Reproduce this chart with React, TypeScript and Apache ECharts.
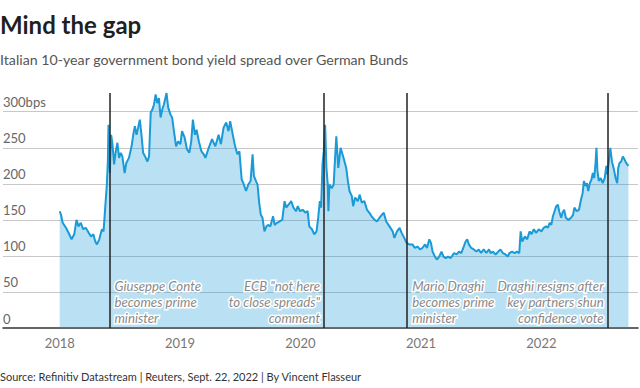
import React, { useEffect, useRef } from "react";
import * as echarts from "echarts";

const FONT = "Lato, 'Noto Sans', sans-serif";

const dates: string[] = [
  "2018-01-01","2018-01-05","2018-01-10","2018-01-20","2018-01-30","2018-02-06","2018-02-14","2018-02-21","2018-02-27","2018-03-06",
  "2018-03-13","2018-03-21","2018-03-30","2018-04-06","2018-04-13","2018-04-19","2018-04-24","2018-05-01","2018-05-09","2018-05-14",
  "2018-05-19","2018-05-24","2018-05-27","2018-05-29","2018-06-02","2018-06-06","2018-06-10","2018-06-15","2018-06-20","2018-06-25",
  "2018-06-30","2018-07-05","2018-07-10","2018-07-17","2018-07-22","2018-07-30","2018-08-07","2018-08-12","2018-08-17","2018-08-22",
  "2018-08-27","2018-09-01","2018-09-06","2018-09-11","2018-09-17","2018-09-24","2018-09-29","2018-10-04","2018-10-09","2018-10-14",
  "2018-10-19","2018-10-24","2018-10-29","2018-11-03","2018-11-08","2018-11-13","2018-11-21","2018-11-26","2018-12-03","2018-12-08",
  "2018-12-13","2018-12-20","2018-12-26","2019-01-02","2019-01-07","2019-01-15","2019-01-22","2019-01-29","2019-02-04","2019-02-09",
  "2019-02-15","2019-02-20","2019-02-27","2019-03-07","2019-03-14","2019-03-19","2019-03-29","2019-04-08","2019-04-18","2019-04-28",
  "2019-05-05","2019-05-13","2019-05-21","2019-05-28","2019-06-02","2019-06-10","2019-06-17","2019-06-24","2019-06-30","2019-07-07",
  "2019-07-12","2019-07-20","2019-07-27","2019-08-03","2019-08-09","2019-08-13","2019-08-19","2019-08-24","2019-08-29","2019-09-03",
  "2019-09-08","2019-09-14","2019-09-20","2019-09-25","2019-10-02","2019-10-10","2019-10-15","2019-10-22","2019-10-30","2019-11-07",
  "2019-11-14","2019-11-19","2019-11-26","2019-12-04","2019-12-11","2019-12-19","2019-12-24","2019-12-31","2020-01-08","2020-01-16",
  "2020-01-23","2020-01-28","2020-02-05","2020-02-12","2020-02-19","2020-02-24","2020-02-29","2020-03-04","2020-03-08","2020-03-12",
  "2020-03-16","2020-03-20","2020-03-24","2020-03-26","2020-03-29","2020-04-05","2020-04-11","2020-04-15","2020-04-19","2020-04-25",
  "2020-05-02","2020-05-12","2020-05-19","2020-05-24","2020-05-29","2020-06-05","2020-06-09","2020-06-15","2020-06-23","2020-06-29",
  "2020-07-05","2020-07-13","2020-07-21","2020-07-28","2020-08-04","2020-08-13","2020-08-21","2020-08-28","2020-09-04","2020-09-10",
  "2020-09-17","2020-09-27","2020-10-07","2020-10-12","2020-10-20","2020-10-28","2020-11-03","2020-11-11","2020-11-18","2020-11-26",
  "2020-12-06","2020-12-13","2020-12-21","2020-12-29","2021-01-05","2021-01-13","2021-01-19","2021-01-26","2021-01-31","2021-02-05",
  "2021-02-12","2021-02-18","2021-02-25","2021-03-04","2021-03-10","2021-03-17","2021-03-24","2021-04-01","2021-04-11","2021-04-19",
  "2021-04-26","2021-05-03","2021-05-09","2021-05-16","2021-05-21","2021-05-26","2021-06-02","2021-06-10","2021-06-18","2021-06-25",
  "2021-07-02","2021-07-10","2021-07-18","2021-07-26","2021-07-31","2021-08-07","2021-08-15","2021-08-23","2021-08-30","2021-09-06",
  "2021-09-14","2021-09-21","2021-09-26","2021-10-04","2021-10-12","2021-10-19","2021-10-26","2021-10-30","2021-11-04","2021-11-12",
  "2021-11-19","2021-11-26","2021-12-02","2021-12-09","2021-12-16","2021-12-24","2022-01-01","2022-01-08","2022-01-15","2022-01-21",
  "2022-01-26","2022-01-31","2022-02-05","2022-02-10","2022-02-15","2022-02-20","2022-02-24","2022-03-02","2022-03-06","2022-03-11",
  "2022-03-16","2022-03-24","2022-04-01","2022-04-07","2022-04-11","2022-04-18","2022-04-25","2022-05-01","2022-05-06","2022-05-10",
  "2022-05-15","2022-05-19","2022-05-23","2022-05-28","2022-06-02","2022-06-06","2022-06-10","2022-06-14","2022-06-17","2022-06-20",
  "2022-06-24","2022-06-30","2022-07-06","2022-07-12","2022-07-17","2022-07-20","2022-07-25","2022-07-29","2022-08-03","2022-08-09",
  "2022-08-14","2022-08-19","2022-08-22","2022-08-26","2022-08-31","2022-09-05","2022-09-10","2022-09-15","2022-09-22",
];

const spreadBps: number[] = [
  162,157,146,139,130,123,130,150,141,146,
  137,139,132,127,130,120,116,123,137,134,
  167,199,231,282,215,268,255,227,245,257,
  236,243,238,215,229,236,252,268,280,268,
  278,289,268,243,238,231,238,299,303,310,
  324,312,319,292,303,310,326,306,296,292,
  275,252,259,255,273,264,248,243,259,289,
  268,275,259,245,241,236,250,262,252,268,
  255,278,285,273,287,268,252,241,245,206,
  201,190,199,204,241,211,204,199,174,157,
  153,134,141,143,141,155,143,146,148,150,
  176,167,171,176,167,162,169,162,164,160,
  162,141,137,130,134,153,176,167,227,245,
  282,222,199,162,199,194,199,234,266,222,
  250,234,222,204,190,183,169,181,176,185,
  174,176,164,160,155,150,148,153,157,160,
  148,141,134,125,134,139,132,125,118,116,
  116,111,113,109,111,116,111,123,118,106,
  99,95,99,106,99,97,99,97,104,102,
  106,104,111,120,123,116,111,109,106,109,
  104,109,104,109,104,106,102,106,109,104,
  102,99,104,106,104,106,104,134,120,127,
  123,134,130,137,132,137,134,139,141,139,
  146,143,155,162,169,171,162,153,160,164,
  153,150,153,157,167,162,164,178,187,204,
  197,201,190,201,206,215,208,227,250,218,
  204,208,201,208,225,213,234,250,231,220,
  208,201,222,229,231,238,234,229,225,
];

const eventDates: string[] = ["2018-06-01", "2020-03-13", "2020-11-20", "2022-07-21"];
const eventLabels: string[] = [
  "Giuseppe Conte\nbecomes prime\nminister",
  "ECB \"not here\nto close spreads\"\ncomment",
  "Mario Draghi\nbecomes prime\nminister",
  "Draghi resigns after\nkey partners shun\nconfidence vote",
];
const eventSides: string[] = ["right", "left", "right", "left"];

const xMin = "2017-07-13";
const xMax = "2022-10-21";
const yMax = 326;
const yStep = 50;

const TITLE = "Mind the gap";
const SUBTITLE = "Italian 10-year government bond yield spread over German Bunds";
const SOURCE = "Source: Refinitiv Datastream | Reuters, Sept. 22, 2022 | By Vincent Flasseur";

function ts(s: string): number {
  const [y, m, d] = s.split("-").map(Number);
  return new Date(y, m - 1, d).getTime();
}

export default function App() {
  const ref = useRef<HTMLDivElement>(null);

  useEffect(() => {
    if (!ref.current) return;
    const chart = echarts.init(ref.current, null, { renderer: "svg" });
    const seriesData = dates.map((d, i) => [ts(d), spreadBps[i]]);

    chart.setOption({
      animation: false,
      textStyle: { fontFamily: FONT },
      title: [
        {
          text: TITLE,
          left: 0,
          top: 12,
          padding: 0,
          textStyle: { fontFamily: FONT, fontSize: 24, fontWeight: "bold", color: "#1f1f1f" },
        },
        {
          text: SUBTITLE,
          left: 0,
          top: 52,
          padding: 0,
          textStyle: { fontFamily: FONT, fontSize: 14.2, fontWeight: "normal", color: "#555" },
        },
        {
          text: SOURCE,
          left: 0,
          top: 371,
          padding: 0,
          textStyle: { fontFamily: FONT, fontSize: 11, fontWeight: "normal", color: "#333" },
        },
      ],
      grid: { left: 0, right: 2, top: 93, bottom: 60, containLabel: false },
      xAxis: {
        type: "time",
        min: ts(xMin),
        max: ts(xMax),
        splitNumber: 5,
        minInterval: 360 * 86400000,
        axisLine: { show: true, onZero: true, lineStyle: { color: "#333", width: 1.5 } },
        axisTick: { show: false },
        splitLine: { show: false },
        axisLabel: {
          color: "#777",
          fontSize: 13,
          fontFamily: FONT,
          margin: 8,
          showMinLabel: false,
          showMaxLabel: false,
          formatter: (v: number) => {
            const d = new Date(v);
            return d.getMonth() === 0 && d.getDate() === 1 ? String(d.getFullYear()) : "";
          },
        },
      },
      yAxis: {
        type: "value",
        min: 0,
        max: yMax,
        interval: yStep,
        axisLine: { show: false },
        axisTick: { show: false },
        splitLine: {
          show: true,
          showMinLine: false,
          showMaxLine: false,
          lineStyle: { color: "#c8c8c8", width: 1 },
        },
        axisLabel: {
          inside: true,
          showMaxLabel: false,
          margin: 0,
          align: "left",
          verticalAlign: "bottom",
          padding: [0, 0, 3, 0],
          color: "#666",
          fontSize: 13,
          fontFamily: FONT,
          formatter: (v: number) => (v === 300 ? "300bps" : v % yStep === 0 ? String(v) : ""),
        },
      },
      series: [
        {
          type: "line",
          data: seriesData,
          showSymbol: false,
          symbol: "none",
          lineStyle: { color: "#1a9ad6", width: 2 },
          areaStyle: { color: "#1a9ad6", opacity: 0.3 },
          z: 3,
          markLine: {
            silent: true,
            symbol: ["none", "none"],
            label: { show: false },
            lineStyle: { color: "#222", width: 1.5, type: "solid" },
            emphasis: { disabled: true },
            data: eventDates.map((d) => ({ xAxis: ts(d) })),
          },
          markPoint: {
            silent: true,
            symbol: "circle",
            symbolSize: 0,
            data: eventDates.map((d, i) => ({
              coord: [ts(d), 0],
              label: {
                show: true,
                formatter: eventLabels[i],
                position: eventSides[i] === "right" ? [5, -2] : [-4, -2],
                align: eventSides[i] === "right" ? "left" : "right",
                verticalAlign: "bottom",
                fontFamily: FONT,
                fontStyle: "italic",
                fontSize: 13.2,
                lineHeight: 16,
                color: "#8a8a8a",
                textBorderColor: "#ffffff",
                textBorderWidth: 3,
              },
            })),
          },
        },
      ],
    });

    return () => chart.dispose();
  }, []);

  return (
    <div
      ref={ref}
      style={{ position: "fixed", left: 0, top: 0, width: 640, height: 388, background: "#fff" }}
    />
  );
}
